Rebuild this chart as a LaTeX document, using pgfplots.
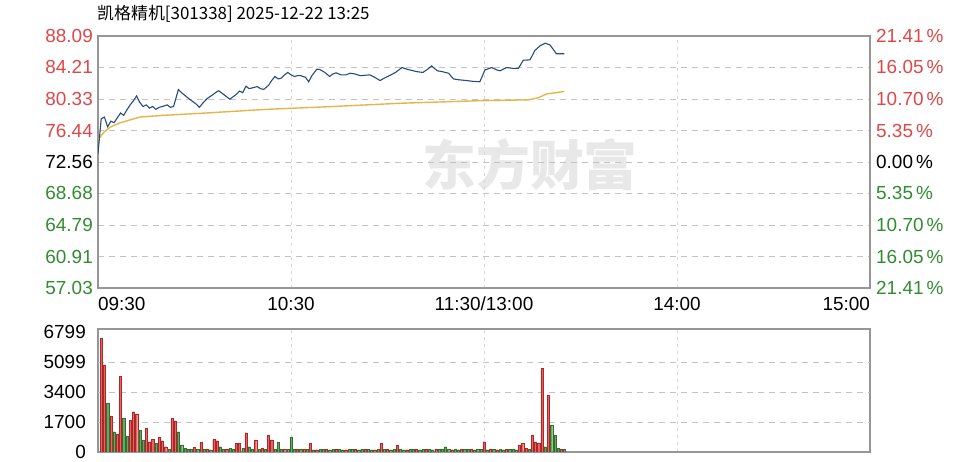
\documentclass[border=0pt]{standalone}
\usepackage{fontspec}
\setmainfont{Liberation Sans}
\newfontfamily\cjk{Noto Sans CJK SC}
\usepackage{pgfplots}
\pgfplotsset{compat=1.18}
\definecolor{upc}{RGB}{222,72,72}
\definecolor{dnc}{RGB}{50,140,50}
\definecolor{upfill}{RGB}{232,100,100}
\definecolor{updraw}{RGB}{170,40,40}
\definecolor{dnfill}{RGB}{110,165,95}
\definecolor{dndraw}{RGB}{50,110,50}
\definecolor{pricec}{RGB}{40,75,125}
\definecolor{avgc}{RGB}{228,182,72}
\definecolor{framec}{RGB}{150,150,150}
\definecolor{gridc}{RGB}{195,195,195}
\definecolor{vgridc}{RGB}{215,215,215}

\pgfplotstableread{
m p
0 73.60
1 77.90
2 78.10
3 76.90
4 77.60
5 77.40
6 78.00
7 78.60
8 78.30
9 79.00
10 79.60
11 80.10
12 80.70
13 79.90
14 79.40
15 79.60
16 79.20
17 79.40
18 79.05
19 79.30
20 79.40
21.5 79.60
22.5 79.30
23.5 79.40
25 81.50
26 81.10
27.5 80.60
28.5 80.30
29.5 80.00
30.5 79.70
31.5 79.30
33 80.00
34 80.40
35.5 80.80
36.5 81.10
37.5 81.35
39 80.90
40 80.60
41 80.30
42 80.60
43 80.90
44 81.30
45 81.10
46 81.90
47 81.60
48 81.70
49.5 81.85
50.5 81.60
51.5 81.50
53 82.00
54 82.60
55 83.10
56 82.80
57 82.90
58 83.30
59 83.60
60 83.30
61 83.10
62 83.20
63 83.20
64.5 83.00
65.5 82.45
66.5 83.20
68 84.00
69 83.95
70.5 83.60
72 83.10
73 83.40
74 83.55
75.5 83.30
77 83.30
78.5 83.50
80 83.40
81.5 83.20
83 83.25
84.5 83.30
86 83.00
87.7 82.60
89 82.90
90.8 83.25
92.5 83.60
94.5 84.20
96 84.00
97 83.90
99 83.70
101 83.60
102.5 84.00
103.7 84.40
105.5 83.80
107 83.70
109 83.50
110.5 82.80
112 82.70
114.6 82.60
116.5 82.50
118.7 82.45
120.3 83.90
122.4 84.20
124 83.90
125 83.80
127 84.20
129 84.10
130.7 84.10
132.2 85.10
134.3 85.15
135.8 86.30
137.5 86.90
139 87.20
140.5 87.00
142.5 85.90
145 85.90
}\pricetab

\pgfplotstableread{
m p
0 75.30
2 76.30
4 76.90
7 77.40
13 78.10
20 78.30
31.5 78.55
52.4 79.05
72 79.38
94 79.80
119 80.12
134 80.22
137 80.50
139.5 80.95
145 81.25
}\avgtab

\pgfplotstableread{
m v
1 6440
2 4930
4 2040
6 1020
7 4306
10 1813
11 2285
12 2153
15 1340
16 584
17 720
19 830
20 640
21 300
23 1907
24 1757
30 250
32 540
34 150
36 700
37 640
40 180
43 500
44 500
46 1093
49 680
51 200
53 963
54 680
58 160
62 150
64 140
66 490
68 130
71 150
74 140
77 130
80 150
83 140
86 130
88 490
90 140
93 400
96 130
99 150
102 140
105 160
110 130
113 150
116 140
120 584
122 150
124 130
127 140
131 400
132 490
133 200
135 963
136 584
137 490
138 4740
140 3230
144 150
}\upvol

\pgfplotstableread{
m v
3 2760
5 1150
8 1900
9 907
13 1246
14 680
18 490
22 150
25 1150
26 400
27 200
28 150
29 150
31 160
33 140
35 130
38 300
39 150
41 200
42 170
45 200
47 300
48 150
50 160
52 150
55 140
56 550
57 150
59 140
60 830
61 160
63 140
65 150
67 130
69 150
70 140
72 130
73 150
75 140
76 130
78 150
79 140
81 130
82 150
84 140
85 130
87 150
89 140
91 130
92 150
94 140
95 130
97 150
98 140
100 130
101 150
103 140
104 130
106 150
107 140
108 300
109 150
111 140
112 130
114 150
115 140
117 130
118 150
119 140
121 130
123 150
125 140
126 130
128 150
129 140
130 130
134 150
139 300
141 1530
142 963
143 200
145 140
}\dnvol

\begin{document}
\begin{tikzpicture}
\useasboundingbox (0bp,0bp) rectangle (968bp,462bp);
\fill[white] (0bp,0bp) rectangle (968bp,462bp);
\node[anchor=west, inner sep=0pt, font=\cjk\fontsize{17}{17}\selectfont] at (97bp,448bp) {凯格精机[301338] 2025-12-22 13:25};
\node[inner sep=0pt, font=\cjk\bfseries\fontsize{54}{54}\selectfont, text=black!9] at (530bp,297bp) {东方财富};

\begin{axis}[
  at={(98bp,174bp)}, anchor=south west, scale only axis,
  width=772bp, height=252bp,
  xmin=0, xmax=240, ymin=57.03, ymax=88.09,
  axis line style={framec, line width=1.3pt},
  major tick length=0pt,
  xtick={0,60,120,180,240},
  xticklabels={\makebox[0pt][l]{09:30},10:30,11:30/13:00,14:00,\makebox[0pt][r]{15:00}},
  xticklabel style={font=\fontsize{19}{19}\selectfont, inner sep=0pt, yshift=-9bp},
  xmajorgrids, major x grid style={vgridc, dash pattern=on 3bp off 4bp, line width=0.8pt},
  ytick={57.03,60.91,64.79,68.68,72.56,76.44,80.33,84.21,88.09},
  yticklabels={\textcolor{dnc}{57.03},\textcolor{dnc}{60.91},\textcolor{dnc}{64.79},\textcolor{dnc}{68.68},72.56,\textcolor{upc}{76.44},\textcolor{upc}{80.33},\textcolor{upc}{84.21},\textcolor{upc}{88.09}},
  yticklabel style={font=\fontsize{19}{19}\selectfont, inner sep=0pt, xshift=-5bp},
  ymajorgrids, major y grid style={gridc, dash pattern=on 6bp off 5bp, line width=0.8pt},
  clip=true,
]
\addplot[avgc, line width=1.4pt] table[x=m,y=p] {\avgtab};
\addplot[pricec, line width=1.1pt] table[x=m,y=p] {\pricetab};
\end{axis}

\begin{axis}[
  at={(98bp,174bp)}, anchor=south west, scale only axis,
  width=772bp, height=252bp,
  xmin=0, xmax=240, ymin=57.03, ymax=88.09,
  axis x line=none, axis y line*=right,
  axis line style={framec, line width=1.3pt},
  major tick length=0pt,
  ytick={57.03,60.91,64.79,68.68,72.56,76.44,80.33,84.21,88.09},
  yticklabels={\textcolor{dnc}{21.41\,\%},\textcolor{dnc}{16.05\,\%},\textcolor{dnc}{10.70\,\%},\textcolor{dnc}{5.35\,\%},0.00\,\%,\textcolor{upc}{5.35\,\%},\textcolor{upc}{10.70\,\%},\textcolor{upc}{16.05\,\%},\textcolor{upc}{21.41\,\%}},
  yticklabel style={font=\fontsize{19}{19}\selectfont, inner sep=0pt, xshift=6bp, anchor=west},
]
\addplot[draw=none] coordinates {(0,72.56)};
\end{axis}

\begin{axis}[
  at={(98bp,10bp)}, anchor=south west, scale only axis,
  width=772bp, height=123bp,
  xmin=0, xmax=240, ymin=0, ymax=6969,
  axis line style={framec, line width=1.3pt},
  major tick length=0pt,
  xtick={60,120,180}, xticklabels={},
  xmajorgrids, major x grid style={vgridc, dash pattern=on 3bp off 4bp, line width=0.8pt},
  ytick={0,1700,3400,5099,6799},
  yticklabels={0,1700,3400,5099,6799},
  yticklabel style={font=\fontsize{19}{19}\selectfont, inner sep=0pt, xshift=-12bp},
  extra y ticks={1700,3400,5099}, extra y tick labels={},
  extra y tick style={ymajorgrids, major y grid style={gridc, dash pattern=on 6bp off 5bp, line width=0.8pt}},
]
\addplot[ybar, bar width=2.2bp, bar shift=0pt, fill=upfill, draw=updraw, line width=0.3pt] table[x=m,y=v] {\upvol};
\addplot[ybar, bar width=2.2bp, bar shift=0pt, fill=dnfill, draw=dndraw, line width=0.3pt] table[x=m,y=v] {\dnvol};
\end{axis}
\end{tikzpicture}
\end{document}
